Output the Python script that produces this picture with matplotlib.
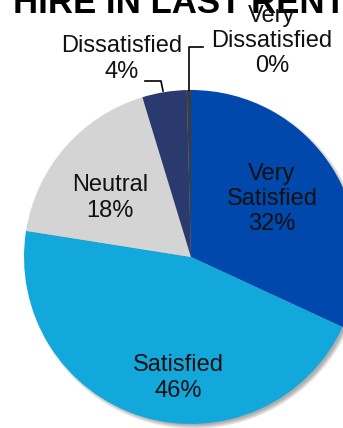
import matplotlib.pyplot as plt
from matplotlib.patches import Circle

plt.rcParams['font.family'] = ['Liberation Sans', 'DejaVu Sans']

# satisfaction shares (%), clockwise from 12 o'clock
labels = ['Very\nSatisfied', 'Satisfied', 'Neutral', 'Dissatisfied', 'Very\nDissatisfied']
values = [31.9, 45.6, 17.8, 4.3, 0.4]
colors = ['#0048AC', '#12A8DC', '#D4D4D4', '#2B3A6E', '#3C3C3C']
title = 'HIRE IN LAST RENTAL'

W, H = 343, 428
fig = plt.figure(figsize=(W / 100, H / 100), dpi=100)
ax = fig.add_axes([0, 0, 1, 1])

cx, cy, r = 191, H - 257, 167

# soft shadow to the lower right
for k in range(6):
    ax.add_patch(Circle((cx + 3, cy - 3), r + 2 - k * 0.8, color='#000000',
                        alpha=0.06, lw=0, zorder=0))

ax.pie(values, colors=colors, startangle=90, counterclock=False,
       center=(cx, cy), radius=r, wedgeprops=dict(linewidth=0))

ax.set_xlim(0, W)
ax.set_ylim(0, H)
ax.set_aspect('auto')
ax.axis('off')

txt = ['%s\n%d%%' % (l, round(v)) for l, v in zip(labels, values)]
pos = [(272, 199), (178, 378), (110, 198), (122, 59), (272, 41)]
for t, (x, y) in zip(txt, pos):
    ax.text(x, H - y, t, ha='center', va='center', fontsize=17,
            linespacing=1.2, color='#111111', zorder=5)

# leader lines for the small slices
ax.plot([145, 161, 163], [H - 81, H - 81, H - 91], color='black', lw=1.2, zorder=4)
ax.plot([203, 189, 189], [H - 47, H - 47, H - 90], color='black', lw=1.2, zorder=4)

ax.text(13, H - 13, title, ha='left', va='baseline', fontsize=25,
        fontweight='bold', color='black', zorder=3)

fig.savefig('out.png', dpi=100)
